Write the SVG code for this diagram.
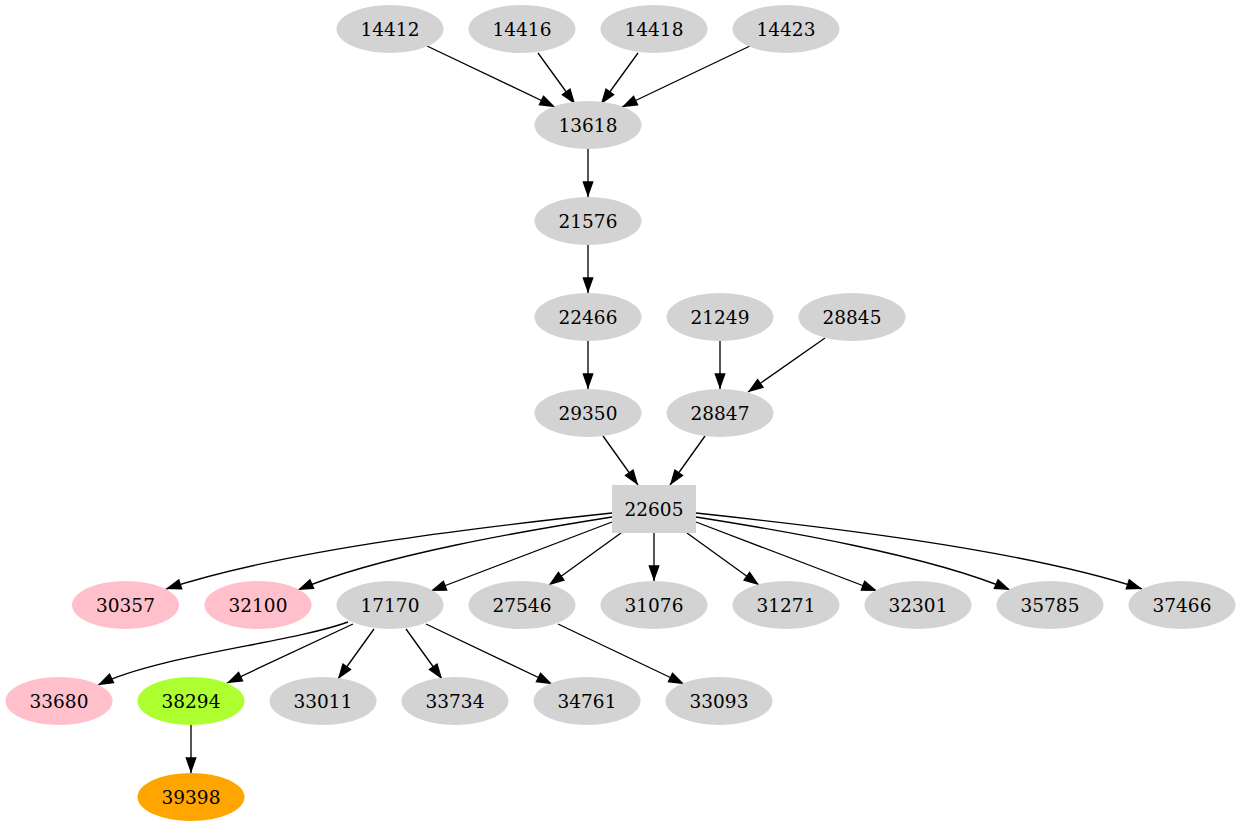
<svg xmlns="http://www.w3.org/2000/svg" width="1241" height="827" viewBox="0 0 1241 827">
<defs>
<style>
.n{fill:#d3d3d3;stroke:none}
.pk{fill:#ffc0cb}
.gy{fill:#adff2f}
.or{fill:#ffa500}
text{font-family:"DejaVu Serif","Liberation Serif",serif;font-size:18.5px;text-anchor:middle;fill:#000}
.e{fill:none;stroke:#000;stroke-width:1.33;marker-end:url(#a)}
</style>
<marker id="a" markerUnits="userSpaceOnUse" markerWidth="20" markerHeight="14" refX="15" refY="4.7" orient="auto" overflow="visible">
<path d="M0,0 L13.3,4.7 L0,9.4 z" fill="#000" stroke="#000" stroke-width="1.33"/>
</marker>
</defs>
<rect width="1241" height="827" fill="#fff"/>
<g id="edges">
<path class="e" d="M427,46 L555,107"/>
<path class="e" d="M538,53 L575,104"/>
<path class="e" d="M638,53 L601,104"/>
<path class="e" d="M750,46 L622,107"/>
<path class="e" d="M588,149 L588,197"/>
<path class="e" d="M588,245 L588,293"/>
<path class="e" d="M588,341 L588,389"/>
<path class="e" d="M720,341 L720,389"/>
<path class="e" d="M825,338 L748,392"/>
<path class="e" d="M603,436 L638,485"/>
<path class="e" d="M705,436 L670,485"/>
<path class="e" d="M654,533 L654,581"/>
<path class="e" d="M621,533 L549,585"/>
<path class="e" d="M687,533 L759,585"/>
<path class="e" d="M612,522 L431,591"/>
<path class="e" d="M696,522 L877,591"/>
<path class="e" d="M612,517 C530,530 380,555 298,590"/>
<path class="e" d="M696,517 C778,530 928,555 1010,590"/>
<path class="e" d="M612,513 C500,525 290,548 166,589"/>
<path class="e" d="M696,513 C808,525 1018,548 1142,589"/>
<path class="e" d="M348,622 C290,643 160,655 98,685"/>
<path class="e" d="M353,624 L227,683"/>
<path class="e" d="M374,629 L338,679"/>
<path class="e" d="M406,629 L442,679"/>
<path class="e" d="M426,624 L552,684"/>
<path class="e" d="M558,624 L684,684"/>
<path class="e" d="M191,725 L191,773"/>
</g>
<g id="n14412"><ellipse class="n" cx="390" cy="29" rx="53.5" ry="24"/><text x="390" y="35.5">14412</text></g>
<g id="n14416"><ellipse class="n" cx="522" cy="29" rx="53.5" ry="24"/><text x="522" y="35.5">14416</text></g>
<g id="n14418"><ellipse class="n" cx="654" cy="29" rx="53.5" ry="24"/><text x="654" y="35.5">14418</text></g>
<g id="n14423"><ellipse class="n" cx="786" cy="29" rx="53.5" ry="24"/><text x="786" y="35.5">14423</text></g>
<g id="n13618"><ellipse class="n" cx="588" cy="125" rx="53.5" ry="24"/><text x="588" y="131.5">13618</text></g>
<g id="n21576"><ellipse class="n" cx="588" cy="221" rx="53.5" ry="24"/><text x="588" y="227.5">21576</text></g>
<g id="n22466"><ellipse class="n" cx="588" cy="317" rx="53.5" ry="24"/><text x="588" y="323.5">22466</text></g>
<g id="n21249"><ellipse class="n" cx="720" cy="317" rx="53.5" ry="24"/><text x="720" y="323.5">21249</text></g>
<g id="n28845"><ellipse class="n" cx="852" cy="317" rx="53.5" ry="24"/><text x="852" y="323.5">28845</text></g>
<g id="n29350"><ellipse class="n" cx="588" cy="413" rx="53.5" ry="24"/><text x="588" y="419.5">29350</text></g>
<g id="n28847"><ellipse class="n" cx="720" cy="413" rx="53.5" ry="24"/><text x="720" y="419.5">28847</text></g>
<g id="n22605"><rect class="n" x="612" y="485" width="84" height="48"/><text x="654" y="515.5">22605</text></g>
<g id="n30357"><ellipse class="n pk" cx="125.5" cy="605" rx="53.5" ry="24"/><text x="125.5" y="611.5">30357</text></g>
<g id="n32100"><ellipse class="n pk" cx="258" cy="605" rx="53.5" ry="24"/><text x="258" y="611.5">32100</text></g>
<g id="n17170"><ellipse class="n" cx="390" cy="605" rx="53.5" ry="24"/><text x="390" y="611.5">17170</text></g>
<g id="n27546"><ellipse class="n" cx="522" cy="605" rx="53.5" ry="24"/><text x="522" y="611.5">27546</text></g>
<g id="n31076"><ellipse class="n" cx="654" cy="605" rx="53.5" ry="24"/><text x="654" y="611.5">31076</text></g>
<g id="n31271"><ellipse class="n" cx="786" cy="605" rx="53.5" ry="24"/><text x="786" y="611.5">31271</text></g>
<g id="n32301"><ellipse class="n" cx="918" cy="605" rx="53.5" ry="24"/><text x="918" y="611.5">32301</text></g>
<g id="n35785"><ellipse class="n" cx="1050" cy="605" rx="53.5" ry="24"/><text x="1050" y="611.5">35785</text></g>
<g id="n37466"><ellipse class="n" cx="1182" cy="605" rx="53.5" ry="24"/><text x="1182" y="611.5">37466</text></g>
<g id="n33680"><ellipse class="n pk" cx="59" cy="701" rx="53.5" ry="24"/><text x="59" y="707.5">33680</text></g>
<g id="n38294"><ellipse class="n gy" cx="191" cy="701" rx="53.5" ry="24"/><text x="191" y="707.5">38294</text></g>
<g id="n33011"><ellipse class="n" cx="323" cy="701" rx="53.5" ry="24"/><text x="323" y="707.5">33011</text></g>
<g id="n33734"><ellipse class="n" cx="455" cy="701" rx="53.5" ry="24"/><text x="455" y="707.5">33734</text></g>
<g id="n34761"><ellipse class="n" cx="587" cy="701" rx="53.5" ry="24"/><text x="587" y="707.5">34761</text></g>
<g id="n33093"><ellipse class="n" cx="719" cy="701" rx="53.5" ry="24"/><text x="719" y="707.5">33093</text></g>
<g id="n39398"><ellipse class="n or" cx="191" cy="797" rx="53.5" ry="24"/><text x="191" y="803.5">39398</text></g>
</svg>
